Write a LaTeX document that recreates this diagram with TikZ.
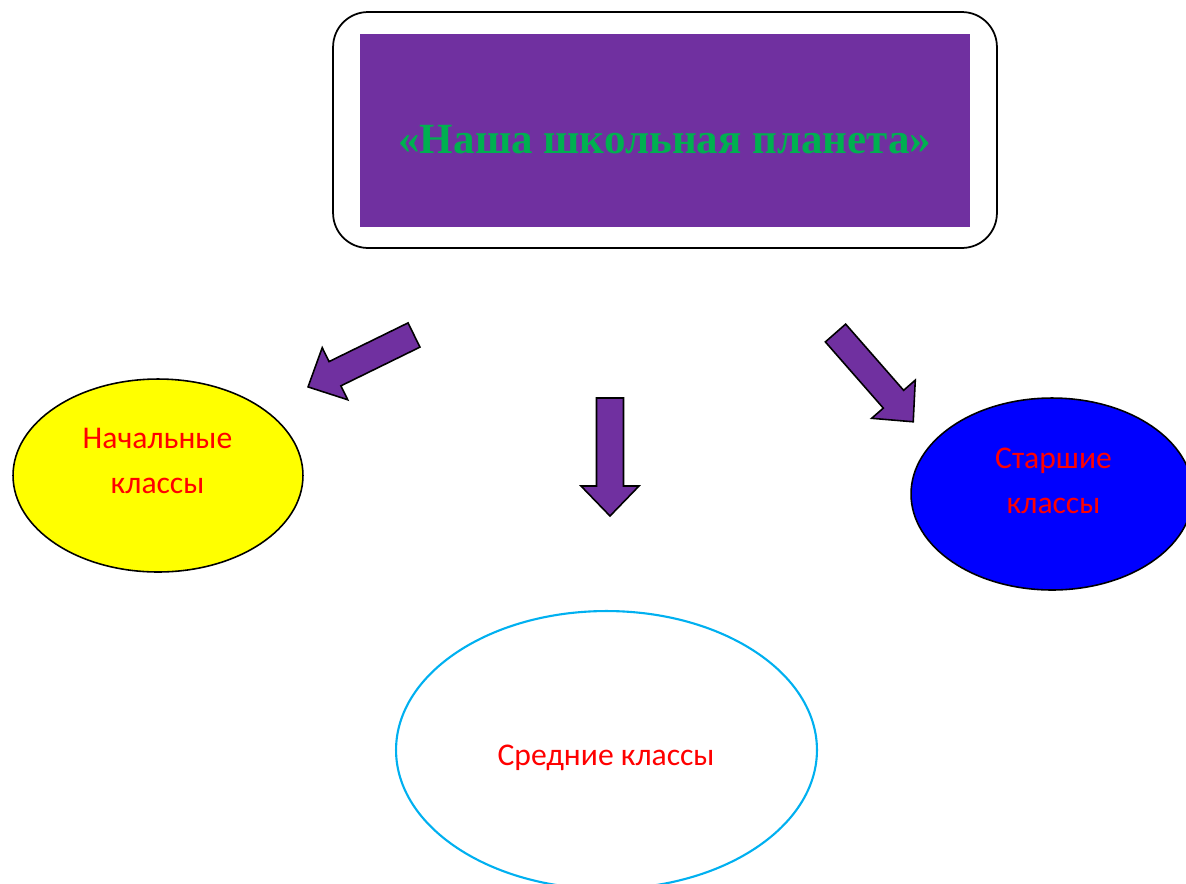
\documentclass[tikz,border=0pt]{standalone}
\usepackage{fontspec}
\setmainfont{Carlito}
\newfontfamily\titlefont{Liberation Serif}
\usetikzlibrary{shapes.geometric}

\definecolor{planetpurple}{HTML}{7030A0}
\definecolor{planetgreen}{HTML}{00B050}
\definecolor{classred}{HTML}{FF0000}
\definecolor{classblue}{HTML}{0000FF}
\definecolor{classyellow}{HTML}{FFFF00}
\definecolor{classcyan}{HTML}{00B0F0}

\tikzset{
  arrowbody/.style={draw=black, line width=0.9pt, fill=planetpurple, line join=miter},
  blockarrow/.pic={\path[arrowbody] (0,-13.5) -- (88,-13.5) -- (88,-29) -- (118,0) -- (88,29) -- (88,13.5) -- (0,13.5) -- cycle;},
  classoval/.style={ellipse, draw=black, line width=0.9pt, inner sep=0pt},
  classtext/.style={text=classred, align=center, anchor=base, inner sep=0pt, font=\fontsize{18}{25.5}\selectfont}
}

\begin{document}
\begin{tikzpicture}[x=0.02cm, y=-0.02cm]
\useasboundingbox (0,0) rectangle (1186,883);
% title
\node[draw=black, line width=1pt, fill=white, rounded corners=0.7cm, minimum width=13.28cm, minimum height=4.72cm] (frame) at (665,130) {};
\node[fill=planetpurple, minimum width=12.2cm, minimum height=3.86cm, inner sep=0pt] (title) at (665,130.5) {};
\node[text=planetgreen, anchor=base, inner sep=0pt, font=\titlefont\bfseries\fontsize{24.5}{28}\selectfont] (titletext) at (665,153) {«Наша школьная планета»};
% arrows
\pic[rotate=206.1] at (414,335) {blockarrow};
\pic[rotate=270] at (610,398) {blockarrow};
\pic[rotate=-48.8] at (835.5,333) {blockarrow};
% classes
\node[classoval, fill=classyellow, minimum width=5.8cm, minimum height=3.86cm] (junior) at (158,475.5) {};
\node[classoval, fill=classblue, minimum width=5.64cm, minimum height=3.84cm] (senior) at (1052,494) {};
\node[classoval, draw=classcyan, line width=1.2pt, fill=white, minimum width=8.42cm, minimum height=5.56cm] (middle) at (606.5,750) {};
\node[classtext] (juniortext) at (157.5,493) {Начальные\\классы};
\node[classtext] (seniortext) at (1053.5,513) {Старшие\\классы};
\node[classtext] (middletext) at (606,765) {Средние классы};
\end{tikzpicture}
\end{document}
